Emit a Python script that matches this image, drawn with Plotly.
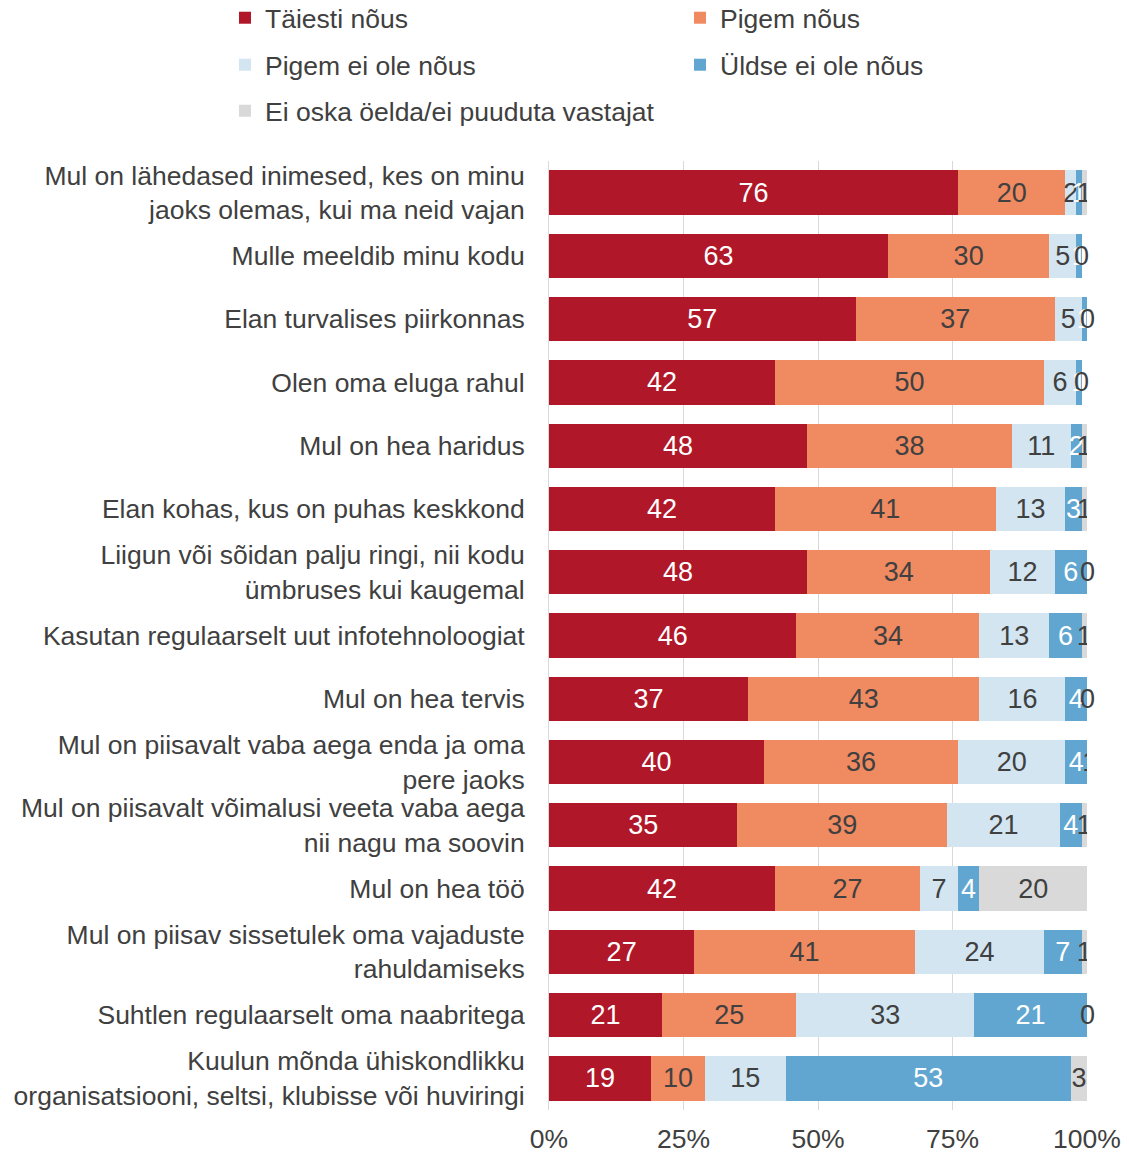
import plotly.graph_objects as go

categories = [
    "Mul on lähedased inimesed, kes on minu<br>jaoks olemas, kui ma neid vajan",
    "Mulle meeldib minu kodu",
    "Elan turvalises piirkonnas",
    "Olen oma eluga rahul",
    "Mul on hea haridus",
    "Elan kohas, kus on puhas keskkond",
    "Liigun või sõidan palju ringi, nii kodu<br>ümbruses kui kaugemal",
    "Kasutan regulaarselt uut infotehnoloogiat",
    "Mul on hea tervis",
    "Mul on piisavalt vaba aega enda ja oma<br>pere jaoks",
    "Mul on piisavalt võimalusi veeta vaba aega<br>nii nagu ma soovin",
    "Mul on hea töö",
    "Mul on piisav sissetulek oma vajaduste<br>rahuldamiseks",
    "Suhtlen regulaarselt oma naabritega",
    "Kuulun mõnda ühiskondlikku<br>organisatsiooni, seltsi, klubisse või huviringi",
]

series_names = [
    "Täiesti nõus",
    "Pigem nõus",
    "Pigem ei ole nõus",
    "Üldse ei ole nõus",
    "Ei oska öelda/ei puuduta vastajat",
]

taiesti = [76, 63, 57, 42, 48, 42, 48, 46, 37, 40, 35, 42, 27, 21, 19]
pigem = [20, 30, 37, 50, 38, 41, 34, 34, 43, 36, 39, 27, 41, 25, 10]
pigem_ei = [2, 5, 5, 6, 11, 13, 12, 13, 16, 20, 21, 7, 24, 33, 15]
uldse_ei = [1, 1, 1, 1, 2, 3, 6, 6, 4, 4, 4, 4, 7, 21, 53]
ei_oska = [1, 0, 0, 0, 1, 1, 0, 1, 0, 1, 1, 20, 1, 0, 3]

tick_vals = [0, 25, 50, 75, 100]
tick_text = ["0%", "25%", "50%", "75%", "100%"]

values = [taiesti, pigem, pigem_ei, uldse_ei, ei_oska]
colors = ["#B01729", "#F08A60", "#D3E5F1", "#60A6D1", "#D9D9D9"]
text_colors = ["#FFFFFF", "#404040", "#404040", "#FFFFFF", "#404040"]

FONT = "Liberation Sans, Arial, sans-serif"
W, H = 1129, 1154
OFF = 8  # page body margin

# legend entry positions (container fractions)
legend_pos = [
    ((225 - OFF) / W, 1 - (18 - OFF) / H),
    ((680 - OFF) / W, 1 - (18 - OFF) / H),
    ((225 - OFF) / W, 1 - (65 - OFF) / H),
    ((680 - OFF) / W, 1 - (65 - OFF) / H),
    ((225 - OFF) / W, 1 - (111 - OFF) / H),
]

fig = go.Figure()
for i, (name, vals, col, tcol) in enumerate(zip(series_names, values, colors, text_colors)):
    fig.add_trace(go.Bar(
        y=categories,
        x=vals,
        name=name,
        orientation="h",
        marker=dict(color=col, line=dict(width=0)),
        text=[str(v) for v in vals],
        textposition="inside",
        insidetextanchor="middle",
        constraintext="none",
        textfont=dict(color=tcol, size=27, family=FONT),
        hoverinfo="skip",
        showlegend=True,
        legend="legend" if i == 0 else f"legend{i + 1}",
    ))

# labels for zero-width segments (Plotly draws no text on zero-width bars)
annotations = []
for r, cat in enumerate(categories):
    cum = 0
    for i, vals in enumerate(values):
        cum += vals[r]
        if vals[r] == 0:
            annotations.append(dict(
                x=cum, y=cat, xref="x", yref="y", text="0", showarrow=False,
                font=dict(size=27, family=FONT, color="#404040"),
                xanchor="center", yanchor="middle",
            ))

layout_legends = {}
for i, (lx, ly) in enumerate(legend_pos):
    key = "legend" if i == 0 else f"legend{i + 1}"
    layout_legends[key] = dict(
        xref="container", yref="container",
        x=lx, y=ly, xanchor="left", yanchor="middle",
        orientation="h",
        font=dict(size=26.5, family=FONT, color="#404040"),
        itemwidth=30,
        bgcolor="rgba(0,0,0,0)",
        visible=True,
    )

fig.update_layout(
    showlegend=True,
    barmode="stack",
    bargap=0.3,
    width=W,
    height=H,
    margin=dict(l=549 - OFF, r=42 + OFF, t=161 - OFF, b=44 + OFF, autoexpand=False),
    paper_bgcolor="white",
    plot_bgcolor="white",
    font=dict(family=FONT, size=26.5, color="#404040"),
    annotations=annotations,
    xaxis=dict(
        range=[0, 100],
        tickvals=tick_vals,
        ticktext=tick_text,
        showgrid=True,
        gridcolor="#D9D9D9",
        gridwidth=1,
        zeroline=False,
        showline=False,
        ticks="",
        ticklabelstandoff=10,
        tickfont=dict(size=26.5),
        fixedrange=True,
        automargin=False,
    ),
    yaxis=dict(
        autorange="reversed",
        showgrid=False,
        showline=True,
        linecolor="#D9D9D9",
        ticks="",
        ticklabelstandoff=18,
        tickfont=dict(size=26.5),
        automargin=False,
    ),
    **layout_legends,
)

fig.write_html("out.html")
